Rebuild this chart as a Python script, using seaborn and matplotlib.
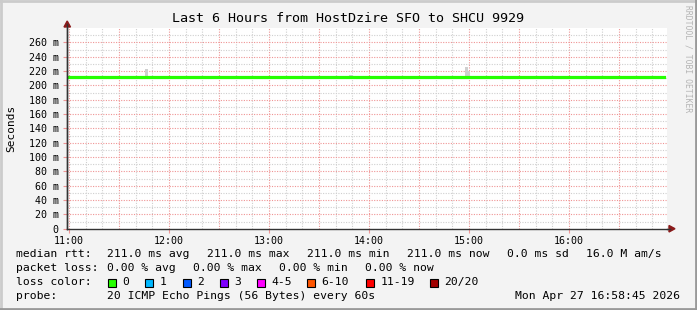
import matplotlib
matplotlib.use("Agg")
import matplotlib.pyplot as plt
import matplotlib.lines as mlines
import matplotlib.patches as mpatches
import seaborn as sns
import pandas as pd
import numpy as np

# ---------------- data ----------------
title = "Last 6 Hours from HostDzire SFO to SHCU 9929"
x_start = 10 + 58.75 / 60          # 10:58:45
x_end = 16 + 58.75 / 60            # 16:58:45
median_hours = [10.98, 12.0, 13.0, 14.0, 15.0, 16.0, 16.95]
median_rtt_ms = [211.0, 211.0, 211.0, 211.0, 211.0, 211.0, 211.0]
smoke_hours = [11.775, 13.82, 14.972, 14.995]
smoke_hi_ms = [222.5, 214.0, 225.5, 220.0]
smoke_lo_ms = [209.0, 209.0, 209.0, 209.0]
hour_ticks = [11, 12, 13, 14, 15, 16]
hour_labels = ["11:00", "12:00", "13:00", "14:00", "15:00", "16:00"]
y_major = list(range(0, 261, 20))
loss_labels = ["0", "1", "2", "3", "4-5", "6-10", "11-19", "20/20"]
loss_colors = ["#26ff00", "#00b8ff", "#0059ff", "#7e00ff", "#ff00ff",
               "#ff5500", "#ff0000", "#a10000"]
rtt_items = ["211.0 ms avg", "211.0 ms max", "211.0 ms min", "211.0 ms now",
             "0.0 ms sd", "16.0 M am/s"]
loss_items = ["0.00 % avg", "0.00 % max", "0.00 % min", "0.00 % now"]
probe_text = "20 ICMP Echo Pings (56 Bytes) every 60s"
stamp_text = "Mon Apr 27 16:58:45 2026"

# ---------------- figure ----------------
W, H = 697, 310
fig = plt.figure(figsize=(W / 100, H / 100), dpi=100)
fig.patch.set_facecolor("#f3f3f3")
MONO = "DejaVu Sans Mono"

def px(x, y):
    return x / W, 1 - y / H

ax_l, ax_r, ax_t, ax_b = 67, 667, 28, 228.7
ax = fig.add_axes([ax_l / W, (H - ax_b) / H, (ax_r - ax_l) / W, (ax_b - ax_t) / H])
ax.set_facecolor("white")

df = pd.DataFrame({"hour": median_hours, "rtt": median_rtt_ms})

# smoke
for h, lo, hi in zip(smoke_hours, smoke_lo_ms, smoke_hi_ms):
    ax.bar(h, hi - lo, bottom=lo, width=0.035, color="#cfcfcf", zorder=2, linewidth=0)

sns.lineplot(data=df, x="hour", y="rtt", ax=ax, color="#26ff00", linewidth=2.3, zorder=3)

ax.set_xlim(x_start, x_end)
ax.set_ylim(0, 280)

# grid
GREY, PINK = "#cfcfcf", "#ef9494"
DOT = (0, (1, 1.3))
for i, m in enumerate(np.arange(11, 17, 1 / 6)):
    if i % 3:
        ax.axvline(m, color=GREY, lw=0.8, ls=DOT, zorder=1)
for m in np.arange(11, 17, 0.5):
    ax.axvline(m, color=PINK, lw=0.8, ls=DOT, zorder=1)
for v in range(10, 280, 20):
    ax.axhline(v, color=GREY, lw=0.8, ls=DOT, zorder=1)
for v in range(20, 280, 20):
    ax.axhline(v, color=PINK, lw=0.8, ls=DOT, zorder=1)

ax.set_xticks(hour_ticks)
ax.set_xticklabels(hour_labels, fontfamily=MONO, fontsize=7.2)
ax.set_yticks(y_major)
ax.set_yticklabels([f"{v} m" if v else "0" for v in y_major], fontfamily=MONO, fontsize=7.2)
ax.tick_params(axis="x", length=3, width=0.8, color=PINK, pad=2)
ax.tick_params(axis="y", length=3, width=0.8, color=PINK, pad=3)
ax.set_xlabel("")
ax.set_ylabel("Seconds", fontfamily=MONO, fontsize=8)
ax.yaxis.set_label_coords(-0.0935, 0.5)
ax.yaxis.label.set_va("center")

for s in ["top", "right"]:
    ax.spines[s].set_visible(False)
for s in ["left", "bottom"]:
    ax.spines[s].set_color("#333333")
    ax.spines[s].set_linewidth(1.0)
    ax.spines[s].set_zorder(5)

# axis arrows
fig.add_artist(mlines.Line2D([px(67, 0)[0]] * 2, [px(0, 228.7)[1], px(0, 24)[1]], color="#333333", lw=1.0))
fig.add_artist(mlines.Line2D([px(667, 0)[0], px(670, 0)[0]], [px(0, 228.7)[1]] * 2, color="#333333", lw=1.0))
fig.add_artist(mpatches.Polygon([px(64, 27), px(70.5, 27), px(67.2, 21)], closed=True, color="#8b1a1a"))
fig.add_artist(mpatches.Polygon([px(669, 225.5), px(669, 232), px(675, 228.7)], closed=True, color="#8b1a1a"))

# title and side text
fig.text(*px(348, 19), title, ha="center", va="center", fontfamily=MONO, fontsize=9.6, color="#000000")
fig.text(*px(688, 5), "RRDTOOL / TOBI OETIKER", ha="center", va="top", rotation=-90,
         fontfamily=MONO, fontsize=5.8, color="#b4b4b4")

# legend rows
FS = 8.2
def t(x, y, s, **kw):
    fig.text(*px(x, y), s, ha=kw.pop("ha", "left"), va="center", fontfamily=MONO, fontsize=FS, **kw)

t(16, 254, "median rtt:")
for x, s in zip([107, 207, 307, 407, 507, 586], rtt_items):
    t(x, 254, s)
t(16, 268, "packet loss:")
for x, s in zip([107, 193, 279, 365], loss_items):
    t(x, 268, s)
t(16, 282, "loss color:")
box_x = [108, 145, 183, 220, 257, 307, 366, 430]
for bx, lab, col in zip(box_x, loss_labels, loss_colors):
    fig.add_artist(mpatches.Rectangle(px(bx, 286.5), 8 / W, 8 / H, facecolor=col,
                                      edgecolor="black", lw=0.8))
    t(bx + 14.5, 282, lab)
t(16, 296, "probe:")
t(107, 296, probe_text)
t(680, 296, stamp_text, ha="right")

# frame shading
fig.add_artist(mlines.Line2D([0, 1], [1 - 1 / H] * 2, color="#cbcbcb", lw=2))
fig.add_artist(mlines.Line2D([1 / W] * 2, [0, 1], color="#cbcbcb", lw=2))
fig.add_artist(mlines.Line2D([0, 1], [1 / H] * 2, color="#999999", lw=2))
fig.add_artist(mlines.Line2D([1 - 1 / W] * 2, [0, 1], color="#999999", lw=2))

fig.savefig("out.png", dpi=100, facecolor=fig.get_facecolor())
